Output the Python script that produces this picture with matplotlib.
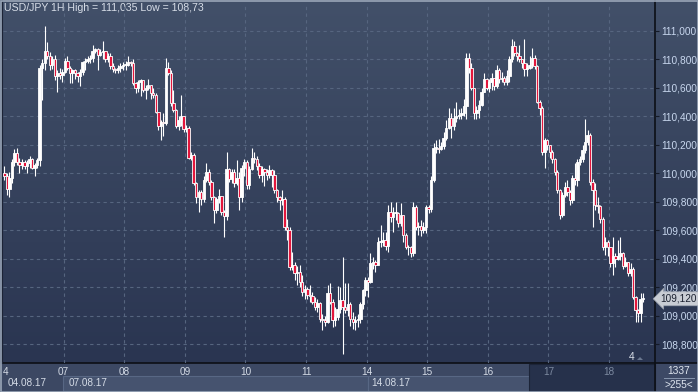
import numpy as np
import matplotlib
matplotlib.use("Agg")
import matplotlib.pyplot as plt
from matplotlib.colors import LinearSegmentedColormap
from matplotlib.patches import Rectangle, Polygon

plt.rcParams["font.family"] = ["Liberation Sans", "DejaVu Sans"]

W, H = 698, 392

title = "USD/JPY 1H High = 111,035 Low = 108,73"
day_labels = ["4", "07", "08", "09", "10", "11", "14", "15", "16", "17", "18"]
week_labels = ["04.08.17", "07.08.17", "14.08.17"]
week_first_day = [0, 1, 6]
price_ticks = [108.8, 109.0, 109.2, 109.4, 109.6, 109.8, 110.0, 110.2, 110.4, 110.6, 110.8, 111.0]
bars_label = "1337"
range_label = ">255<"
corner_label = "4"

first_open = 110.00
# hourly closes, one row per trading day (04, 07, 08, 09, 10, 11, 14, 15, 16, 17, 18)
close = [
    109.98, 109.89, 109.97, 110.08, 110.14, 110.08, 110.06, 110.08, 110.05, 110.07, 110.10, 110.04,
    110.06, 110.09, 110.74, 110.77, 110.86, 110.82, 110.76, 110.80, 110.68, 110.70, 110.69, 110.71,
    110.79, 110.74, 110.70, 110.72, 110.70, 110.68, 110.71, 110.78, 110.79, 110.80, 110.81, 110.86,
    110.87, 110.83, 110.85, 110.86, 110.80, 110.82, 110.75, 110.73, 110.72, 110.74, 110.75, 110.76,
    110.76, 110.78, 110.77, 110.63, 110.60, 110.64, 110.65, 110.58, 110.60, 110.62, 110.56, 110.55,
    110.43, 110.33, 110.36, 110.35, 110.74, 110.70, 110.49, 110.44, 110.33, 110.37, 110.40, 110.31,
    110.32, 110.11, 110.13, 109.93, 109.83, 109.87, 109.82, 109.95, 110.01, 109.94, 109.83, 109.74,
    109.82, 109.84, 109.73, 109.70, 110.03, 109.96, 110.01, 109.93, 109.97, 109.83, 110.04, 110.08,
    109.92, 110.03, 110.11, 110.10, 110.05, 109.99, 110.03, 110.01, 109.99, 110.02, 109.99, 109.88,
    109.83, 109.81, 109.82, 109.62, 109.60, 109.34, 109.36, 109.30, 109.31, 109.24, 109.17, 109.19,
    109.15, 109.14, 109.10, 109.06, 109.09, 108.98, 108.97, 108.96, 109.16, 109.10, 108.97, 108.99,
    109.05, 109.11, 109.06, 109.04, 109.08, 108.98, 108.96, 108.97, 108.98, 109.08, 109.18, 109.25,
    109.24, 109.37, 109.38, 109.36, 109.52, 109.52, 109.53, 109.49, 109.73, 109.69, 109.72, 109.72,
    109.65, 109.71, 109.57, 109.48, 109.48, 109.44, 109.76, 109.62, 109.63, 109.60, 109.62, 109.76,
    109.75, 109.95, 110.18, 110.18, 110.17, 110.19, 110.25, 110.32, 110.39, 110.33, 110.39, 110.40,
    110.41, 110.42, 110.47, 110.81, 110.74, 110.60, 110.42, 110.44, 110.48, 110.57, 110.66, 110.60,
    110.64, 110.67, 110.61, 110.72, 110.66, 110.67, 110.64, 110.68, 110.80, 110.89, 110.84, 110.82,
    110.80, 110.77, 110.73, 110.74, 110.76, 110.81, 110.75, 110.50, 110.46, 110.15, 110.23, 110.20,
    110.15, 110.10, 110.01, 109.88, 109.71, 109.85, 109.90, 109.87, 109.81, 109.97, 109.95, 110.08,
    110.10, 110.16, 110.22, 110.27, 109.94, 109.88, 109.78, 109.77, 109.68, 109.48, 109.52, 109.48,
    109.37, 109.42, 109.40, 109.42, 109.44, 109.35, 109.38, 109.30, 109.33, 109.13, 109.04, 109.02,
    109.12, 109.12,
]
high = [
    110.05, 110.00, 110.01, 110.10, 110.17, 110.18, 110.11, 110.10, 110.09, 110.09, 110.12, 110.11,
    110.07, 110.11, 110.76, 110.80, 111.035, 110.92, 110.85, 110.82, 110.83, 110.72, 110.74, 110.73,
    110.81, 110.82, 110.75, 110.73, 110.73, 110.71, 110.73, 110.79, 110.81, 110.82, 110.83, 110.90,
    110.88, 110.88, 110.87, 110.93, 110.86, 110.84, 110.84, 110.77, 110.74, 110.76, 110.77, 110.78,
    110.79, 110.82, 110.79, 110.80, 110.64, 110.65, 110.66, 110.64, 110.62, 110.66, 110.62, 110.60,
    110.56, 110.43, 110.37, 110.42, 110.81, 110.78, 110.72, 110.58, 110.45, 110.40, 110.55, 110.40,
    110.34, 110.33, 110.15, 110.14, 109.94, 109.88, 109.88, 109.98, 110.07, 110.03, 109.95, 109.84,
    109.83, 109.89, 109.84, 109.74, 110.15, 110.04, 110.03, 110.03, 110.09, 110.01, 110.06, 110.10,
    110.09, 110.05, 110.18, 110.15, 110.12, 110.07, 110.05, 110.04, 110.03, 110.06, 110.03, 110.02,
    109.89, 109.84, 109.88, 109.83, 109.68, 109.62, 109.45, 109.38, 109.35, 109.36, 109.29, 109.22,
    109.20, 109.22, 109.17, 109.13, 109.12, 109.10, 109.01, 109.00, 109.22, 109.23, 109.12, 109.06,
    109.21, 109.20, 109.41, 109.23, 109.23, 109.10, 109.03, 109.00, 109.01, 109.10, 109.19, 109.27,
    109.27, 109.44, 109.41, 109.39, 109.55, 109.64, 109.59, 109.59, 109.78, 109.80, 109.76, 109.80,
    109.73, 109.79, 109.70, 109.58, 109.50, 109.49, 109.80, 109.78, 109.66, 109.67, 109.66, 109.78,
    109.78, 109.98, 110.21, 110.23, 110.24, 110.22, 110.29, 110.37, 110.46, 110.42, 110.46, 110.50,
    110.45, 110.46, 110.52, 110.84, 110.84, 110.77, 110.60, 110.47, 110.51, 110.60, 110.70, 110.67,
    110.66, 110.70, 110.67, 110.76, 110.74, 110.71, 110.68, 110.72, 110.82, 110.94, 110.93, 110.85,
    110.90, 110.80, 110.94, 110.77, 110.82, 110.88, 110.83, 110.76, 110.51, 110.47, 110.25, 110.24,
    110.20, 110.16, 110.11, 110.02, 109.89, 109.87, 109.94, 109.95, 109.88, 109.99, 110.07, 110.10,
    110.12, 110.20, 110.38, 110.30, 110.28, 109.96, 109.93, 109.83, 109.78, 109.69, 109.55, 109.53,
    109.48, 109.55, 109.44, 109.53, 109.55, 109.45, 109.41, 109.38, 109.37, 109.34, 109.14, 109.05,
    109.16, 109.16,
]
low = [
    109.95, 109.85, 109.83, 109.93, 110.05, 110.06, 110.00, 110.03, 110.03, 110.00, 110.04, 110.03,
    109.98, 110.04, 110.05, 110.51, 110.72, 110.80, 110.72, 110.73, 110.65, 110.57, 110.66, 110.64,
    110.70, 110.72, 110.63, 110.63, 110.66, 110.64, 110.61, 110.69, 110.72, 110.77, 110.77, 110.78,
    110.84, 110.72, 110.82, 110.80, 110.78, 110.78, 110.73, 110.71, 110.70, 110.70, 110.71, 110.72,
    110.72, 110.75, 110.75, 110.62, 110.56, 110.57, 110.54, 110.57, 110.52, 110.58, 110.52, 110.53,
    110.42, 110.30, 110.23, 110.26, 110.34, 110.69, 110.47, 110.43, 110.32, 110.30, 110.33, 110.29,
    110.29, 110.10, 110.09, 109.92, 109.79, 109.73, 109.78, 109.80, 109.94, 109.92, 109.81, 109.65,
    109.72, 109.79, 109.71, 109.55, 109.67, 109.94, 109.93, 109.90, 109.92, 109.74, 109.80, 109.98,
    109.89, 109.89, 110.02, 110.07, 110.02, 109.97, 109.94, 109.91, 109.95, 109.97, 109.90, 109.86,
    109.80, 109.74, 109.78, 109.60, 109.53, 109.32, 109.32, 109.25, 109.22, 109.20, 109.14, 109.12,
    109.12, 109.10, 109.08, 109.04, 109.03, 108.96, 108.90, 108.93, 108.95, 109.08, 108.92, 108.93,
    108.97, 109.02, 108.73, 109.02, 109.00, 108.93, 108.91, 108.90, 108.92, 108.95, 109.05, 109.14,
    109.13, 109.23, 109.33, 109.31, 109.36, 109.48, 109.49, 109.46, 109.45, 109.66, 109.59, 109.67,
    109.62, 109.63, 109.52, 109.47, 109.43, 109.41, 109.42, 109.60, 109.57, 109.56, 109.58, 109.58,
    109.72, 109.73, 109.94, 110.14, 110.14, 110.16, 110.17, 110.23, 110.31, 110.25, 110.30, 110.36,
    110.38, 110.38, 110.40, 110.38, 110.70, 110.58, 110.38, 110.38, 110.39, 110.47, 110.57, 110.58,
    110.57, 110.58, 110.58, 110.60, 110.63, 110.64, 110.62, 110.62, 110.64, 110.78, 110.82, 110.79,
    110.78, 110.74, 110.68, 110.68, 110.73, 110.74, 110.73, 110.49, 110.41, 110.13, 110.04, 110.16,
    110.11, 110.07, 109.99, 109.86, 109.68, 109.69, 109.83, 109.84, 109.78, 109.79, 109.92, 109.91,
    110.06, 110.08, 110.14, 110.20, 109.92, 109.62, 109.74, 109.72, 109.65, 109.46, 109.43, 109.42,
    109.34, 109.29, 109.34, 109.39, 109.39, 109.33, 109.34, 109.28, 109.28, 109.12, 108.96, 108.96,
    108.96, 109.10,
]

close = np.array(close)
high = np.array(high)
low = np.array(low)
opens = np.r_[first_open, close[:-1]]
idx = np.arange(len(close))
up = close >= opens

fig = plt.figure(figsize=(W / 100, H / 100), dpi=100)
fig.patch.set_facecolor("#3b4762")

# pixel-space layer for the terminal chrome
bg = fig.add_axes([0, 0, 1, 1], zorder=0)
bg.set_xlim(0, W)
bg.set_ylim(H, 0)
bg.axis("off")
cmap = LinearSegmentedColormap.from_list("bg", ["#425069", "#2a3551"])
bg.imshow(np.linspace(0, 1, 256).reshape(-1, 1), cmap=cmap, aspect="auto",
          extent=[0, W, 363, 0], origin="upper", zorder=0)
bg.add_patch(Rectangle((0, 363), W, 29, fc="#3c4863", ec="none", zorder=1))
bg.add_patch(Rectangle((63, 376), 305, 15, fc="#46536f", ec="#586784", lw=0.8, zorder=2))
bg.add_patch(Rectangle((368, 376), 161, 15, fc="#46536f", ec="#586784", lw=0.8, zorder=2))
bg.add_patch(Rectangle((529, 364), 126, 28, fc="#26314b", ec="#1c2438", lw=0.8, zorder=3))
bg.add_patch(Rectangle((655, 363), 43, 29, fc="#3d4965", ec="none", zorder=1))
bg.plot([3, W], [363, 363], color="#0c0f16", lw=1.2, zorder=5)
bg.plot([655, 655], [0, H], color="#0c0f16", lw=1.2, zorder=5)
bg.plot([2, 2], [0, 363], color="#1c2336", lw=1.5, zorder=5)
bg.add_patch(Rectangle((0.5, 0.5), W - 1, H - 1, fc="none", ec="#9aa6b8", lw=1.2, zorder=6))
bg.plot([664, 694], [378, 378], color="#8795ad", lw=0.7, zorder=5)
bg.text(679, 371, bars_label, color="#dfe6f0", fontsize=7.3, ha="center", va="center", zorder=6)
bg.text(679, 385, range_label, color="#dfe6f0", fontsize=7.3, ha="center", va="center", zorder=6)
bg.text(4, 8, title, color="#d8dee8", fontsize=7.6, ha="left", va="center", zorder=6)
bg.text(632, 357, corner_label, color="#d8dee8", fontsize=7.3, ha="center", va="center", zorder=6)
bg.add_patch(Polygon([[637, 360], [643, 360], [640, 357]], closed=True, fc="#6b7890", ec="none", zorder=6))

ax = fig.add_axes([3 / W, 1 - 363 / H, 652 / W, 360 / H], zorder=1)
ax.set_facecolor("none")
for s in ax.spines.values():
    s.set_visible(False)
ax.set_xlim(-0.52, 257.7)
ax.set_ylim(108.670, 111.193)

grid_kw = dict(color="#56657f", lw=0.8, ls=(0, (3, 3)), zorder=1)
for p in price_ticks:
    ax.axhline(p, **grid_kw)
day_pos = [24 * d - 0.5 for d in range(len(day_labels))]
for xp in day_pos[1:]:
    ax.axvline(xp, **grid_kw)

# candles
ax.vlines(idx, low, high, color="white", lw=0.8, zorder=3)
body_lo = np.minimum(opens, close)
body_h = np.maximum(np.abs(close - opens), 0.006)
ax.bar(idx, body_h, bottom=body_lo, width=0.95,
       color=np.where(up, "#ffffff", "#e3163c"), edgecolor="white", lw=0.6, zorder=4)

# axes labels
ax.yaxis.tick_right()
ax.set_yticks(price_ticks)
ax.set_yticklabels([f"{p:.3f}".replace(".", ",") for p in price_ticks])
ax.tick_params(axis="y", length=3, width=0.8, color="#141a28", pad=1.2,
               labelsize=7.3, labelcolor="#c8d7ee")
ax.set_xticks(day_pos)
ax.set_xticklabels(day_labels)
ax.tick_params(axis="x", length=0, pad=3.2, labelsize=7.2, labelcolor="#d4dbe6")
xt = ax.get_xticklabels()
xt[0].set_ha("left")
for t in xt[-2:]:
    t.set_color("#7c89a0")

for lab, d in zip(week_labels, week_first_day):
    ax.annotate(lab, xy=(24 * d - 0.5, 0), xycoords=("data", "axes fraction"),
                xytext=(5, -20), textcoords="offset pixels",
                color="#d4dbe6", fontsize=7.2, ha="left", va="center")

# last price tag
last = close[-1]
ax.annotate(f"{last:.3f}".replace(".", ","), xy=(1.0, last), xycoords=("axes fraction", "data"),
            xytext=(24, 0), textcoords="offset pixels", color="#1b2130", fontsize=7.2,
            ha="center", va="center",
            bbox=dict(boxstyle="larrow,pad=0.2", fc="#c9cdd4", ec="#9aa1ad", lw=0.5),
            annotation_clip=False, zorder=7)

fig.savefig("out.png", dpi=100, facecolor=fig.get_facecolor())
